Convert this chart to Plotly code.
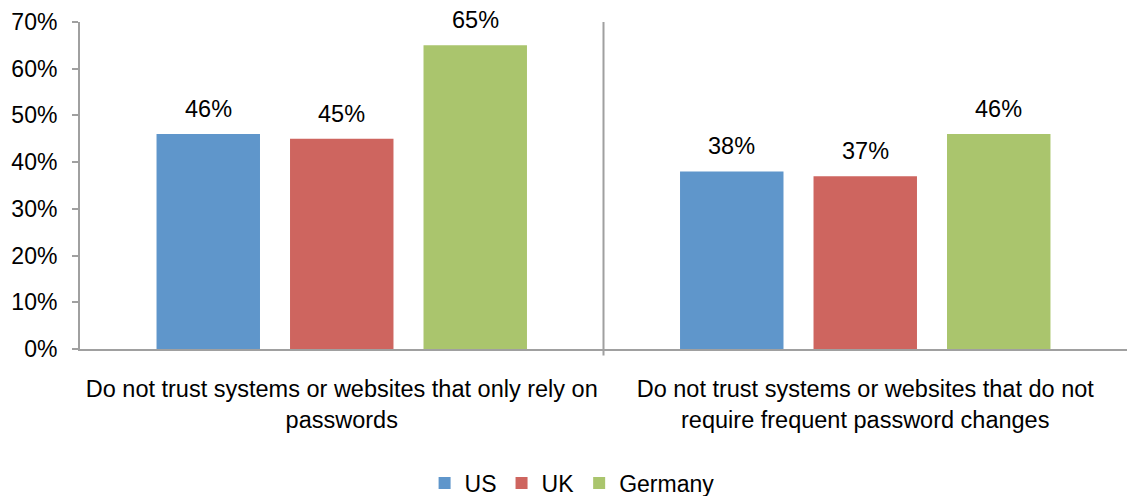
import plotly.graph_objects as go

# Survey results: share of respondents by country
categories = [
    "Do not trust systems or websites that only rely on<br>passwords",
    "Do not trust systems or websites that do not<br>require frequent password changes",
]
us = [46, 38]
uk = [45, 37]
germany = [65, 46]

series = [("US", us, "#5F96CB"), ("UK", uk, "#CE655F"), ("Germany", germany, "#AAC56D")]

FONT = "Liberation Sans, Arial, sans-serif"
W, H = 1127, 496
M_L, M_R, M_T, M_B = 80, 0, 22, 147
BARGAP = 0.235
GROUPGAP = 0.225

fig = go.Figure()
for name, vals, color in series:
    fig.add_trace(go.Bar(
        name=name, x=categories, y=vals,
        marker=dict(color=color, line=dict(width=0)),
    ))

# value labels above each bar, offset to the bar's slot within its group
plot_w = W - M_L - M_R
slot_px = plot_w / len(categories) * (1 - BARGAP) / len(series)
for i, (name, vals, color) in enumerate(series):
    for c, v in zip(categories, vals):
        fig.add_annotation(
            x=c, y=v, text=f"{v}%", showarrow=False,
            xshift=(i - 1) * slot_px, yshift=10, yanchor="bottom",
            font=dict(family=FONT, size=23.5, color="#000000"),
        )

# divider between the two categories
fig.add_shape(type="line", xref="x", yref="paper", x0=0.5, x1=0.5, y0=-0.02, y1=1,
              line=dict(color="#A0A0A0", width=2))

fig.update_layout(
    width=W, height=H,
    margin=dict(l=M_L, r=M_R, t=M_T, b=M_B, autoexpand=False),
    paper_bgcolor="white", plot_bgcolor="white",
    barmode="group", bargap=BARGAP, bargroupgap=GROUPGAP,
    font=dict(family=FONT, size=23, color="#000000"),
    showlegend=True,
    legend=dict(orientation="h", x=0.47, xanchor="center", y=-0.41, yanchor="middle",
                font=dict(family=FONT, size=23), itemwidth=30, traceorder="normal"),
    xaxis=dict(showline=True, linecolor="#A0A0A0", linewidth=2, ticks="",
               showgrid=False, tickfont=dict(family=FONT, size=23.5),
               ticklabelstandoff=18),
    yaxis=dict(range=[0, 70], dtick=10, ticksuffix="%", showgrid=False,
               showline=True, linecolor="#A0A0A0", linewidth=2,
               ticks="outside", ticklen=6, tickcolor="#A0A0A0", tickwidth=2,
               tickfont=dict(family=FONT, size=23), zeroline=False,
               ticklabelstandoff=10),
)

fig.write_html("out.html")
